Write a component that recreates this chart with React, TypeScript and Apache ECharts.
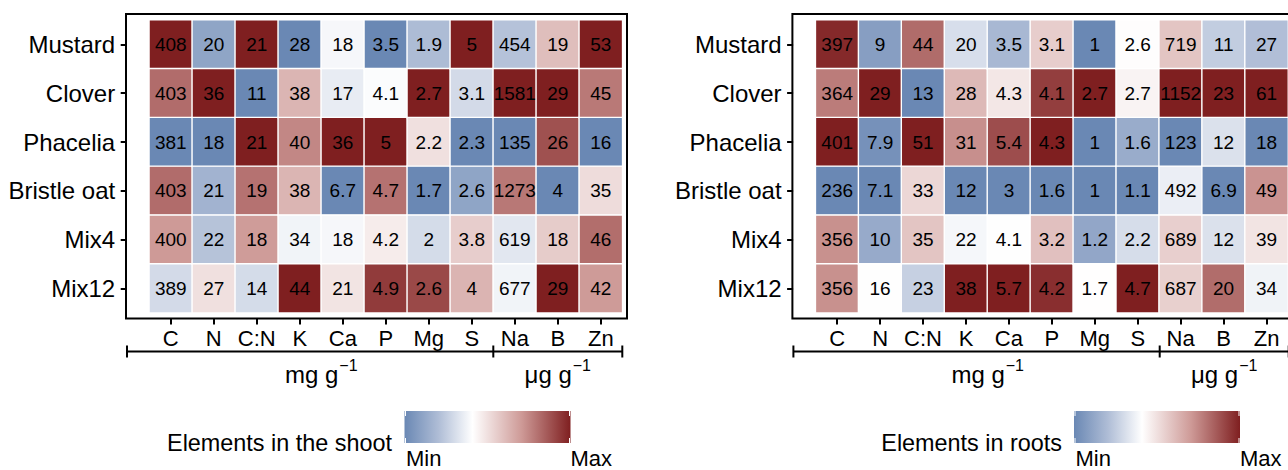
import React, { useEffect, useRef } from "react";
import * as echarts from "echarts";

// ---------- data ----------
const species = ["Mustard", "Clover", "Phacelia", "Bristle oat", "Mix4", "Mix12"];
const elements = ["C", "N", "C:N", "K", "Ca", "P", "Mg", "S", "Na", "B", "Zn"];

// Elements in the shoot (rows follow species, columns follow elements)
const shootMustard = [408, 20, 21, 28, 18, 3.5, 1.9, 5, 454, 19, 53];
const shootClover = [403, 36, 11, 38, 17, 4.1, 2.7, 3.1, 1581, 29, 45];
const shootPhacelia = [381, 18, 21, 40, 36, 5, 2.2, 2.3, 135, 26, 16];
const shootBristleOat = [403, 21, 19, 38, 6.7, 4.7, 1.7, 2.6, 1273, 4, 35];
const shootMix4 = [400, 22, 18, 34, 18, 4.2, 2, 3.8, 619, 18, 46];
const shootMix12 = [389, 27, 14, 44, 21, 4.9, 2.6, 4, 677, 29, 42];

// Elements in roots
const rootMustard = [397, 9, 44, 20, 3.5, 3.1, 1, 2.6, 719, 11, 27];
const rootClover = [364, 29, 13, 28, 4.3, 4.1, 2.7, 2.7, 1152, 23, 61];
const rootPhacelia = [401, 7.9, 51, 31, 5.4, 4.3, 1, 1.6, 123, 12, 18];
const rootBristleOat = [236, 7.1, 33, 12, 3, 1.6, 1, 1.1, 492, 6.9, 49];
const rootMix4 = [356, 10, 35, 22, 4.1, 3.2, 1.2, 2.2, 689, 12, 39];
const rootMix12 = [356, 16, 23, 38, 5.7, 4.2, 1.7, 4.7, 687, 20, 34];

const shootRows = [shootMustard, shootClover, shootPhacelia, shootBristleOat, shootMix4, shootMix12];
const rootRows = [rootMustard, rootClover, rootPhacelia, rootBristleOat, rootMix4, rootMix12];

// unit groups: label, first and last element index
const unitLabels = ["mg g", "μg g"];
const unitSup = "−1";
const unitFrom = [0, 8];
const unitTo = [7, 10];

const legendTitles = ["Elements in the shoot", "Elements in roots"];
const legendEnds = ["Min", "Max"];

// ---------- styling ----------
const FONT = "'Liberation Sans', Arial, Helvetica, sans-serif";
const COLORS = ["#6A88B4", "#AFBDD6", "#FFFFFF", "#CE9A97", "#7F1F20"];
const WHITE_AT = 0.41;
const COLW = 43;
const ROWH = 48.8;
const GRID_TOP = 20;
const GRID_LEFTS = [149.3, 815.7];

function buildData(matrix: number[][]) {
  const out: number[][] = [];
  for (let c = 0; c < elements.length; c++) {
    const col = matrix.map((r) => r[c]);
    const mn = Math.min(...col);
    const mx = Math.max(...col);
    for (let r = 0; r < matrix.length; r++) {
      const v = matrix[r][c];
      const t = mx > mn ? (v - mn) / (mx - mn) : 0.5;
      const tp = t < WHITE_AT ? (t / WHITE_AT) * 0.5 : 0.5 + ((t - WHITE_AT) / (1 - WHITE_AT)) * 0.5;
      out.push([c, r, v, tp]);
    }
  }
  return out;
}

function measure(text: string, size: number) {
  const cv = document.createElement("canvas");
  const ctx = cv.getContext("2d");
  if (!ctx) return text.length * size * 0.55;
  ctx.font = `${size}px ${FONT}`;
  return ctx.measureText(text).width;
}

export default function App() {
  const ref = useRef<HTMLDivElement>(null);

  useEffect(() => {
    if (!ref.current) return;
    const chart = echarts.init(ref.current, undefined, { renderer: "svg" });
    const gw = COLW * elements.length;
    const gh = ROWH * species.length;

    const grids = GRID_LEFTS.map((l) => ({ left: l, top: GRID_TOP, width: gw, height: gh }));
    const tick = { show: true, alignWithLabel: true, length: 6, lineStyle: { color: "#000", width: 2 } };
    const xAxes = GRID_LEFTS.map((_, i) => ({
      type: "category",
      gridIndex: i,
      data: elements,
      position: "bottom",
      offset: 5.6,
      axisLine: { show: false },
      axisTick: tick,
      splitLine: { show: false },
      axisLabel: { fontSize: 22, color: "#000", fontFamily: FONT, margin: 9, interval: 0 },
    }));
    const yAxes = GRID_LEFTS.map((_, i) => ({
      type: "category",
      gridIndex: i,
      data: species,
      inverse: true,
      offset: 22.6,
      axisLine: { show: false },
      axisTick: tick,
      splitLine: { show: false },
      axisLabel: { fontSize: 24, color: "#000", fontFamily: FONT, margin: 11.5, interval: 0 },
    }));
    const series = [shootRows, rootRows].map((m, i) => ({
      type: "heatmap",
      xAxisIndex: i,
      yAxisIndex: i,
      data: buildData(m),
      itemStyle: { borderColor: "#FFFFFF", borderWidth: 1.4 },
      emphasis: { disabled: true },
      label: {
        show: true,
        formatter: (p: any) => String(p.value[2]),
        fontSize: 19,
        color: "#000",
        fontFamily: FONT,
      },
    }));

    const graphic: any[] = [];
    const MAIN_SIZE = 24;
    const SUP_SIZE = 16;
    GRID_LEFTS.forEach((gl) => {
      const boxL = gl - 23.3;
      const boxT = GRID_TOP - 6;
      const boxR = gl + gw + 4.7;
      const boxB = GRID_TOP + gh + 5.6;
      graphic.push({
        type: "rect",
        shape: { x: boxL, y: boxT, width: boxR - boxL, height: boxB - boxT },
        style: { fill: "none", stroke: "#000", lineWidth: 2 },
        silent: true,
      });
      // bracket
      const by = 351.5;
      const mid = gl + unitFrom[1] * COLW;
      const right = gl + (unitTo[1] + 1) * COLW;
      const bl = boxL + 1;
      graphic.push({ type: "line", shape: { x1: bl, y1: by, x2: right, y2: by }, style: { stroke: "#000", lineWidth: 2 } });
      [bl, mid, right].forEach((x) =>
        graphic.push({ type: "line", shape: { x1: x, y1: by - 6, x2: x, y2: by + 6 }, style: { stroke: "#000", lineWidth: 2 } })
      );
      unitLabels.forEach((u, k) => {
        const cx = gl + ((unitFrom[k] + unitTo[k] + 1) / 2) * COLW;
        const wm = measure(u, MAIN_SIZE);
        const ws = measure(unitSup, SUP_SIZE);
        const x0 = cx - (wm + 1 + ws) / 2;
        graphic.push({
          type: "text",
          x: x0,
          y: 374,
          style: { text: u, align: "left", verticalAlign: "middle", fontSize: MAIN_SIZE, fontFamily: FONT, fill: "#000" },
        });
        graphic.push({
          type: "text",
          x: x0 + wm + 1,
          y: 365,
          style: { text: unitSup, align: "left", verticalAlign: "middle", fontSize: SUP_SIZE, fontFamily: FONT, fill: "#000" },
        });
      });
    });

    // legends
    const legendBarL = [404.5, 1074];
    const legendTitleR = [392, 1062];
    const barW = 166;
    const barT = 411;
    const barH = 32;
    legendBarL.forEach((lx, i) => {
      graphic.push({
        type: "text",
        x: legendTitleR[i],
        y: 443,
        style: { text: legendTitles[i], align: "right", verticalAlign: "middle", fontSize: 23.4, fontFamily: FONT, fill: "#000" },
      });
      graphic.push({
        type: "rect",
        shape: { x: lx, y: barT, width: barW, height: barH },
        style: {
          fill: {
            type: "linear",
            x: 0,
            y: 0,
            x2: 1,
            y2: 0,
            colorStops: [
              { offset: 0, color: COLORS[0] },
              { offset: WHITE_AT / 2, color: COLORS[1] },
              { offset: WHITE_AT, color: COLORS[2] },
              { offset: WHITE_AT + (1 - WHITE_AT) / 2, color: COLORS[3] },
              { offset: 1, color: COLORS[4] },
            ],
          },
        },
      });
      [lx + 1, lx + barW - 1].forEach((tx) => {
        graphic.push({ type: "line", shape: { x1: tx, y1: barT, x2: tx, y2: barT + 5 }, style: { stroke: "#FFFFFF", lineWidth: 1 } });
        graphic.push({ type: "line", shape: { x1: tx, y1: barT + barH - 5, x2: tx, y2: barT + barH }, style: { stroke: "#FFFFFF", lineWidth: 1 } });
      });
      graphic.push({
        type: "text",
        x: lx + 1.5,
        y: 458.5,
        style: { text: legendEnds[0], align: "left", verticalAlign: "middle", fontSize: 22, fontFamily: FONT, fill: "#000" },
      });
      graphic.push({
        type: "text",
        x: lx + barW,
        y: 458.5,
        style: { text: legendEnds[1], align: "left", verticalAlign: "middle", fontSize: 22, fontFamily: FONT, fill: "#000" },
      });
    });

    chart.setOption({
      animation: false,
      backgroundColor: "#FFFFFF",
      grid: grids,
      xAxis: xAxes,
      yAxis: yAxes,
      visualMap: [
        {
          type: "continuous",
          show: false,
          dimension: 3,
          min: 0,
          max: 1,
          seriesIndex: [0, 1],
          inRange: { color: COLORS },
        },
      ],
      series,
      graphic,
    });
    return () => chart.dispose();
  }, []);

  return <div ref={ref} style={{ position: "absolute", left: 0, top: 0, width: 1288, height: 470 }} />;
}
